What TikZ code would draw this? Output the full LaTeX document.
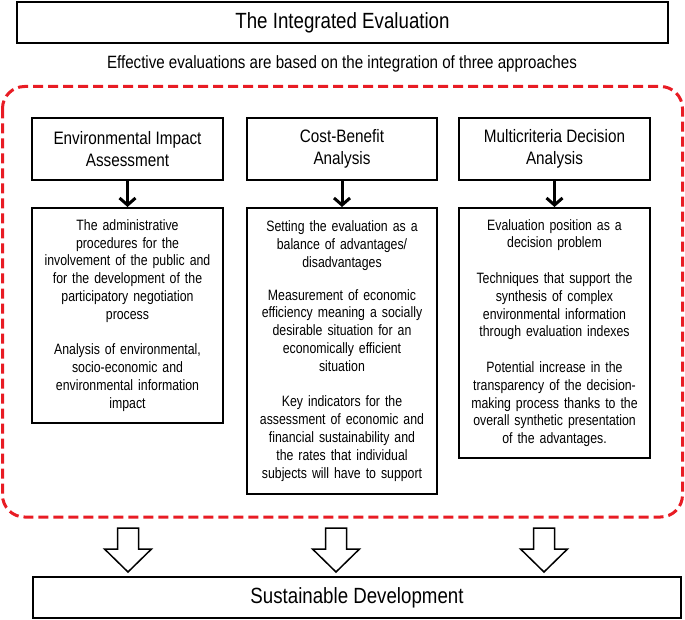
\documentclass[tikz,border=0pt]{standalone}
\usepackage{fontspec}
\setmainfont{Liberation Sans}[FakeStretch=0.85]
\newfontfamily\bodyf{Liberation Sans}[FakeStretch=0.82]
\usetikzlibrary{arrows.meta}
\definecolor{dashred}{RGB}{232,28,36}
\tikzset{
  titlebox/.style={draw, line width=2pt, inner sep=0pt, font=\fontsize{22}{26}\selectfont},
  headbox/.style={draw, line width=2pt, inner sep=0pt, align=center, font=\fontsize{18}{22}\selectfont},
  contentbox/.style={draw, line width=2pt, inner sep=0pt, align=center, text width=191pt, anchor=north, font=\bodyf\fontsize{15}{17.8}\selectfont},
  downarrow/.style={line width=3pt, -{Straight Barb[length=7pt,width=16pt,line width=3pt]}},
  regionbox/.style={draw=dashred, line width=3pt, dash pattern=on 10pt off 5pt, rounded corners=22pt},
  hollow/.pic={\draw[line width=1.5pt, line join=miter] (-10.5,0) -- (10.5,0) -- (10.5,21) -- (23.5,21) -- (0,44) -- (-23.5,21) -- (-10.5,21) -- cycle;}
}
\begin{document}
\begin{tikzpicture}[x=1pt, y=-1pt]
\useasboundingbox (0,0) rectangle (685,620);
% title
\node[titlebox, minimum width=651pt, minimum height=41pt] (top) at (342.5,22.5) {The Integrated Evaluation};
\node[font=\fontsize{17.8}{21}\selectfont] (sub) at (342,64) {Effective evaluations are based on the integration of three approaches};
% dashed region
\draw[regionbox] (2.5,86.5) rectangle (682.5,517);
% headers
\node[headbox, minimum width=191pt, minimum height=62pt] (h1) at (127.5,149) {Environmental Impact\\Assessment};
\node[headbox, minimum width=190pt, minimum height=62pt] (h2) at (342,149) {Cost-Benefit\\Analysis};
\node[headbox, minimum width=191pt, minimum height=62pt] (h3) at (554.5,149) {Multicriteria Decision\\Analysis};
% contents
\node[contentbox, minimum height=215pt] (c1) at (127.5,207) {The administrative\\procedures for the\\involvement of the public and\\for the development of the\\participatory negotiation\\process\\[17.8pt]Analysis of environmental,\\socio-economic and\\environmental information\\impact};
\node[contentbox, text width=190pt, minimum height=286pt] (c2) at (342,207) {Setting the evaluation as a\\balance of advantages/\\disadvantages\\[15pt]Measurement of economic\\efficiency meaning a socially\\desirable situation for an\\economically efficient\\situation\\[17.8pt]Key indicators for the\\assessment of economic and\\financial sustainability and\\the rates that individual\\subjects will have to support};
\node[contentbox, minimum height=250pt] (c3) at (554.5,207) {Evaluation position as a\\decision problem\\[17.8pt]Techniques that support the\\synthesis of complex\\environmental information\\through evaluation indexes\\[17.8pt]Potential increase in the\\transparency of the decision-\\making process thanks to the\\overall synthetic presentation\\of the advantages.};
% small arrows
\draw[downarrow] (h1) -- (c1);
\draw[downarrow] (h2) -- (c2);
\draw[downarrow] (h3) -- (c3);
% sustainable development
\node[titlebox, minimum width=648pt, minimum height=41pt] (sd) at (357,597.5) {Sustainable Development};
% hollow arrows
\pic at (128,528) {hollow};
\pic at (336,528) {hollow};
\pic at (544,528) {hollow};
\end{tikzpicture}
\end{document}
